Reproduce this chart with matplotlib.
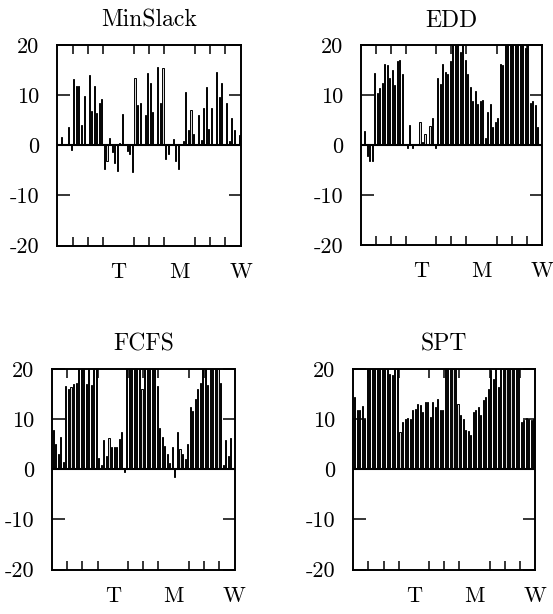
import matplotlib
matplotlib.use("Agg")
import matplotlib.pyplot as plt
import numpy as np

titles = ["MinSlack", "EDD", "FCFS", "SPT"]
day_labels = ["T", "M", "W"]
ytick_labels = ["-20", "-10", "0", "10", "20"]

minslack = [0, 1.7, 0, 0, 3.6, -1.0, 13.2, 11.9, 11.9, 4.1, 9.9, 0,
            14.0, 6.8, 11.9, 6.5, 8.4, 9.2, -4.8, -3.1, 1.4, -1.3, -3.6, -5.2,
            0.5, 6.2, 0, -1.1, -1.7, -5.4, 13.5, 8.1, 8.4, 0, 6.1, 14.4,
            12.4, 6.6, 0, 15.6, 8.5, 15.4, -2.8, -1.7, 0, 1.2, -3.1, -4.8,
            0, 0.8, 10.7, 3.1, 7.1, 2.3, 0, 6.1, 1.0, 7.4, 11.6, 3.2,
            7.4, 0, 14.7, 9.7, 12.4, 0, 8.4, 0.9, 5.4, 3.1, 0, 2.1]

edd = [0, 2.9, -2.1, -3.2, -3.2, 14.4, 10.5, 11.5, 12.5, 16.3, 16.1, 13.5,
       15.0, 12.0, 16.9, 17.0, 14.3, 0, -0.6, 4.0, -0.6, 0, 0, 4.6,
       0.7, 2.3, 0, 3.8, 5.5, -0.5, 13.5, 12.3, 16.2, 14.6, 14.3, 16.8,
       20, 20, 20, 18.7, 20, 17.0, 14.3, 11.6, 8.9, 10.8, 8.3, 8.9,
       9.1, 1.5, 6.6, 8.3, 3.6, 4.6, 5.4, 16.2, 16.0, 20, 20, 20,
       20, 20, 20, 20, 20, 19.5, 20, 8.4, 8.9, 8.1, 3.6, 0]

fcfs = [7.8, 5.0, 3.0, 6.4, 1.5, 16.6, 16.1, 16.5, 17.0, 17.3, 20, 20,
        20, 17.0, 20, 16.8, 20, 20, 2.2, 0.9, 5.8, 2.7, 6.2, 4.4,
        4.4, 4.4, 6.0, 7.4, -0.5, 20, 20, 20, 20, 20, 20, 16.1,
        20, 20, 20, 20, 20, 16.7, 8.2, 6.5, 4.6, 3.0, 1.3, 4.5,
        -1.5, 7.5, 4.0, 3.0, 2.0, 5.0, 12.4, 11.7, 14.0, 16.1, 17.3, 20,
        20, 16.8, 20, 20, 20, 20, 17.3, 0.9, 5.8, 2.7, 6.2, 0]

spt = [14.5, 11.9, 11.9, 12.6, 10.1, 20, 20, 20, 20, 20, 20, 20,
       20, 20, 19.1, 18.8, 20, 20, 7.5, 9.5, 10.1, 10.3, 10.1, 11.8,
       12.1, 13.1, 12.8, 11.5, 13.5, 13.5, 10.5, 13.5, 12.5, 14.1, 11.8, 11.8,
       20, 20, 20, 20, 20, 13.1, 10.8, 10.1, 7.8, 7.7, 6.8, 11.5,
       11.8, 12.5, 10.8, 13.8, 14.5, 16.1, 19.8, 18.1, 20, 16.5, 20, 20,
       20, 20, 20, 20, 20, 20, 9.5, 9.9, 10.3, 10.1, 9.9, 10.1]

series = [minslack, edd, fcfs, spt]

W, H = 553, 614
fig = plt.figure(figsize=(W / 100, H / 100), dpi=100)
fig.patch.set_facecolor("white")

# axes boxes in pixels: left, right, top, bottom
boxes = [(57.3, 240.7, 45, 245.5),
         (361.0, 541.7, 45, 245.0),
         (52.0, 234.5, 369, 569.5),
         (353.3, 535.0, 369, 569.5)]

font = "cmr10"
plt.rcParams["axes.unicode_minus"] = False

for title, vals, (l, r, t, b) in zip(titles, series, boxes):
    ax = fig.add_axes([l / W, 1 - b / H, (r - l) / W, (b - t) / H])
    n = len(vals)
    x = np.arange(n) + 0.5
    ax.bar(x, vals, width=0.42, facecolor="#d8d8d8", edgecolor="black",
           linewidth=0.7, zorder=2)
    ax.axhline(0, color="black", linewidth=1.5, zorder=3)
    ax.set_xlim(0, n)
    ax.set_ylim(-20, 20)
    for s in ax.spines.values():
        s.set_linewidth(1.4)
    ax.set_yticks([-20, -10, 0, 10, 20])
    ax.set_yticklabels(ytick_labels, fontfamily=font, fontsize=16)
    ax.set_xticks([24, 48, 72])
    ax.set_xticklabels(day_labels, fontfamily=font, fontsize=16)
    ax.set_xticks(np.arange(6, 72, 6), minor=True)
    ax.tick_params(axis="y", which="major", direction="in", left=True,
                   right=True, length=9, width=1.1, pad=13)
    ax.tick_params(axis="x", which="major", direction="in", length=0,
                   pad=12)
    ax.tick_params(axis="x", which="minor", direction="in", bottom=True,
                   top=True, length=6.5, width=1.1)
    ax.set_title(title, fontfamily=font, fontsize=17, pad=13)

fig.savefig("out.png", dpi=100, facecolor="white")
